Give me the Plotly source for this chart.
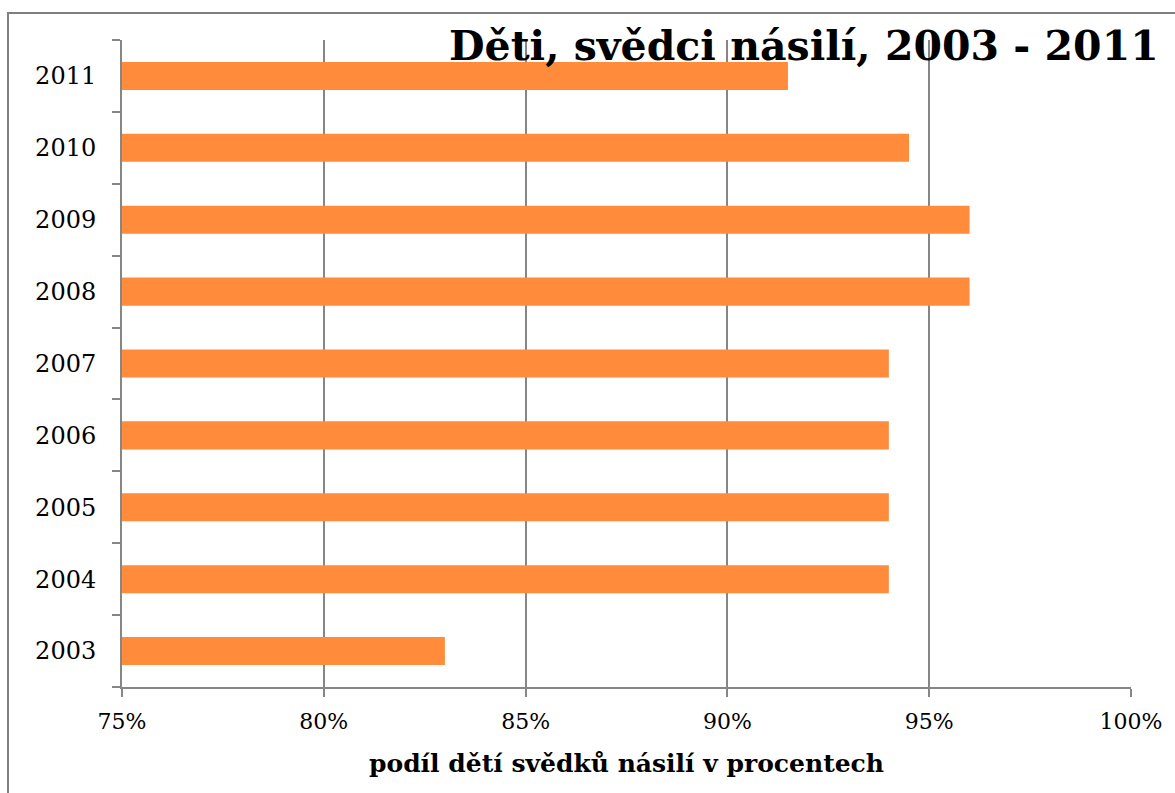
import plotly.graph_objects as go

years = ["2003", "2004", "2005", "2006", "2007", "2008", "2009", "2010", "2011"]
shares = [0.83, 0.94, 0.94, 0.94, 0.94, 0.96, 0.96, 0.945, 0.915]
x_ticks = [0.75, 0.80, 0.85, 0.90, 0.95, 1.00]
x_tick_labels = ["75%", "80%", "85%", "90%", "95%", "100%"]
title_text = "Děti, svědci násilí, 2003 - 2011"
x_title = "podíl dětí svědků násilí v procentech"

FONT = "DejaVu Serif"
GRID = "#868686"

fig = go.Figure(
    go.Bar(
        y=years,
        x=shares,
        orientation="h",
        marker=dict(color="#FF8B3B", line=dict(width=0)),
    )
)

fig.update_layout(
    width=1175,
    height=793,
    margin=dict(l=122, r=44, t=40, b=106),
    paper_bgcolor="white",
    plot_bgcolor="white",
    bargap=0.61,
    showlegend=False,
    font=dict(family=FONT, color="black"),
    title=dict(
        text="<b>" + title_text + "</b>",
        font=dict(family=FONT, size=41, color="black"),
        xref="container",
        yref="container",
        x=449 / 1175,
        xanchor="left",
        y=1 - 46 / 793,
        yanchor="middle",
    ),
    xaxis=dict(
        range=[0.75, 1.0],
        tickvals=x_ticks,
        ticktext=x_tick_labels,
        showgrid=True,
        gridcolor=GRID,
        gridwidth=2,
        showline=True,
        linecolor=GRID,
        linewidth=2,
        ticks="outside",
        ticklen=8,
        tickwidth=2,
        tickcolor=GRID,
        tickfont=dict(family=FONT, size=22, color="black"),
        ticklabelstandoff=6,
        zeroline=False,
        title=dict(
            text="<b>" + x_title + "</b>",
            font=dict(family=FONT, size=25, color="black"),
            standoff=21,
        ),
    ),
    yaxis=dict(
        type="category",
        categoryorder="array",
        categoryarray=years,
        showgrid=False,
        showline=True,
        linecolor=GRID,
        linewidth=2,
        ticks="outside",
        tickson="boundaries",
        ticklen=8,
        tickwidth=2,
        tickcolor=GRID,
        tickfont=dict(family=FONT, size=24, color="black"),
        ticklabelstandoff=19,
    ),
    shapes=[
        dict(
            type="rect",
            xref="paper",
            yref="paper",
            x0=(8 - 122) / 1009,
            x1=(1220 - 122) / 1009,
            y0=(687 - 840) / 647,
            y1=(687 - 13) / 647,
            line=dict(color="#7F7F7F", width=2),
            fillcolor="rgba(0,0,0,0)",
            layer="below",
        )
    ],
)

fig.write_html(
    "out.html",
    config={"displayModeBar": False},
    post_script="document.body.style.margin='0';",
)
